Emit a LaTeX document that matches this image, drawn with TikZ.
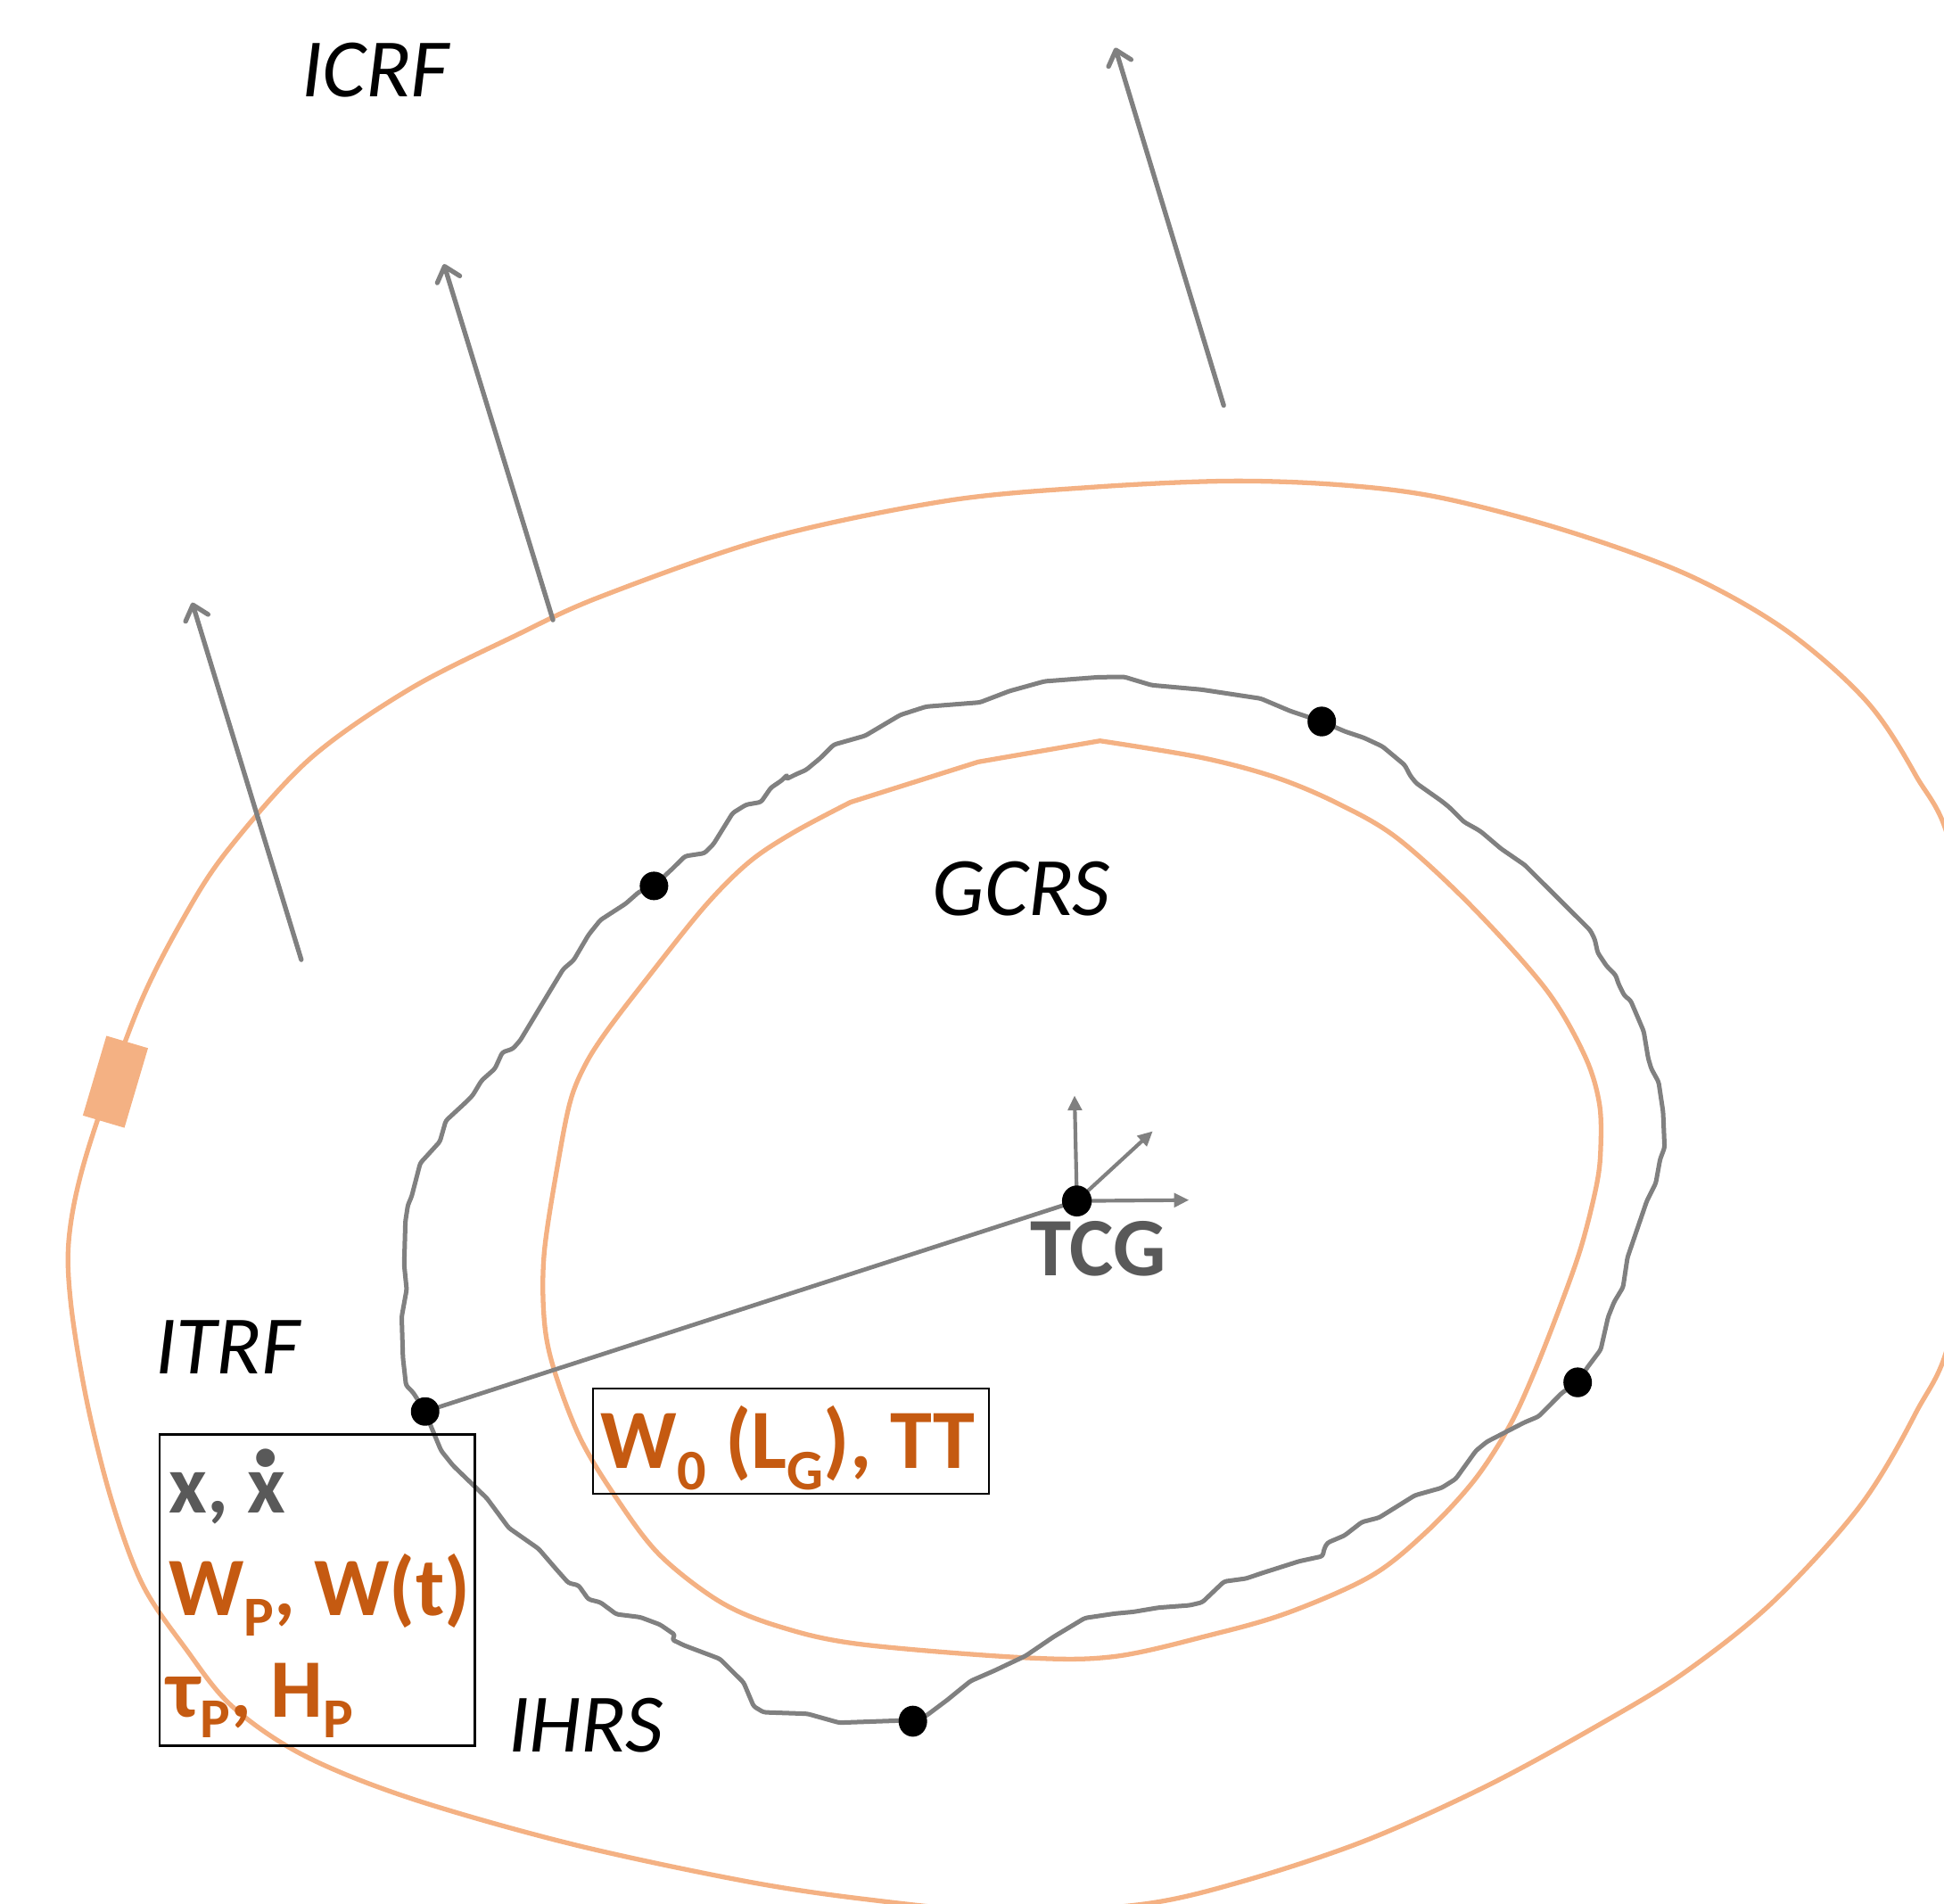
\documentclass[tikz,border=0pt]{standalone}
\usepackage{fontspec}
\setmainfont{Carlito}
\usepackage{graphicx}
\usetikzlibrary{arrows.meta,shapes.geometric}
\definecolor{curvegray}{HTML}{808080}
\definecolor{orangeline}{HTML}{F4B183}
\definecolor{orangetext}{HTML}{C55A11}
\definecolor{labelgray}{HTML}{595959}
\pgfdeclarelayer{bg}
\pgfsetlayers{bg,main}
% lowered, reduced subscript as set in the labels
\newcommand\lowsub[1]{\raisebox{-0.25em}{\scalebox{0.68}{#1}}}
% x with a dot above (time derivative)
\newcommand\xdotted{\ooalign{x\cr\hidewidth\raisebox{0.56em}{\scalebox{1.5}{.}}\hidewidth\cr}}
\tikzset{
  spot/.style 2 args={ellipse, fill=black, draw=none, inner sep=0pt,
    minimum width=#1, minimum height=#2},
  lbl/.style={font=\fontsize{67}{72}\selectfont\itshape, inner sep=0pt, anchor=base west},
  boxtxt/.style={font=\fontsize{67}{72}\selectfont\bfseries, inner sep=0pt, anchor=base west},
  framebox/.style={draw=black, line width=1.6pt, fill=none, inner sep=0pt},
  orangecurve/.style={draw=orangeline, line width=3.8pt, line join=round},
  wiggle/.style={draw=curvegray, line width=3.6pt, line join=round, rounded corners=2pt},
  bigarrow/.style={draw=curvegray, line width=3.8pt, line cap=round,
    -{Straight Barb[length=11pt,width=19pt,line cap=round,line join=round]}},
  axisarrow/.style={draw=curvegray, line width=3pt, -{Triangle[length=12pt,width=11pt]}},
  link/.style={draw=curvegray, line width=3.4pt},
}
\begin{document}
\begin{tikzpicture}[x=1pt, y=-1pt]
\useasboundingbox (0,0) rectangle (1568,1535.6);

% ---- points on the station track and the geocentre ----
\node[spot={23pt}{23pt}] (d1) at (527.5,714.5) {};
\node[spot={23pt}{24pt}] (d2) at (1066.1,581.9) {};
\node[spot={23pt}{24pt}] (d3) at (1272.5,1114.9) {};
\node[spot={23pt}{25pt}] (d4) at (736.3,1388.2) {};
\node[spot={23pt}{23pt}] (d5) at (342.9,1138.4) {};
\node[spot={24pt}{25pt}] (tcg) at (868.6,968.6) {};

% ---- free ends of arrows ----
\coordinate (a1s) at (987,327);   \coordinate (a1e) at (899.5,38.5);
\coordinate (a2s) at (446,500);   \coordinate (a2e) at (358,213);
\coordinate (a3s) at (243,774);   \coordinate (a3e) at (155,486);
\coordinate (axz) at (866.7,883.5);
\coordinate (axy) at (929.8,912.3);
\coordinate (axx) at (959,967.9);

\begin{pgfonlayer}{bg}
% outer orange boundary (runs past the frame)
\begin{scope}
\clip (0,0) rectangle (1568,1535.6);
\draw[orangecurve] plot[smooth cycle, tension=0.55] coordinates {
 (70.7,928) (111.5,813) (150,737) (185,684) (250,612) (330,556) (415,513)
 (485,481) (620,434) (763,404) (880,393) (990,388) (1080,391) (1160,401)
 (1260,427) (1360,463) (1440,508) (1505,565) (1545,625) (1575,690) (1600,880)
 (1575,1070) (1545,1140) (1500,1215) (1430,1292) (1360,1348) (1294.7,1388.2)
 (1200,1440) (1100,1485) (1000,1518) (920,1536) (810,1542) (700,1532)
 (600,1517) (460,1487) (330,1450) (244.5,1415.5) (187,1376) (150,1330)
 (115,1278) (90,1210) (70,1130) (57,1050) (56,995)};
\end{scope}

% inner orange boundary
\draw[orangecurve] plot[smooth, tension=0.55] coordinates {
 (887.2,597.5) (969,611) (1029,627) (1079,648) (1127,676) (1187,731)
 (1247,798) (1278,851) (1290,890) (1291,928) (1287.5,957) (1275.5,1005)
 (1259,1052) (1237,1108) (1217,1151) (1189,1194) (1151,1235) (1106,1271)
 (1038,1301) (975,1319) (899,1336) (827,1337) (693,1326) (629,1312)
 (581,1292) (532,1254) (497,1208) (468,1160) (447,1105) (439,1065)
 (439,1010) (450.8,933.8) (460.3,887.1) (472.3,858.3) (489.1,832)
 (520.3,791.2) (568.2,731.3) (604.2,695.3) (640.2,671.3) (686,647)}
 -- (789,614.5) -- cycle;

% station track
\draw[wiggle] (342.9,1138.4) -- (333.3,1123.2) -- (327.5,1117.3) -- (325,1095)
 -- (324,1062) -- (328,1040) -- (326,1020) -- (327,985) -- (329,972)
 -- (332,965) -- (339,938) -- (342.9,933.8) -- (354.8,920.7) -- (359.6,903.9)
 -- (375.2,889.5) -- (381.2,883.5) -- (388.4,871.5) -- (399.2,861.9)
 -- (405.2,848.7) -- (413.6,845.9) -- (419.6,839.1) -- (441.2,803.2)
 -- (454.3,781.6) -- (462.7,774.4) -- (474.7,754) -- (484.3,742)
 -- (504.7,728.8) -- (515.5,719.3) -- (527.5,714.5) -- (543,700)
 -- (552.6,690.5) -- (568.2,688.1) -- (575.4,680.9) -- (591,655.7)
 -- (601.8,649) -- (613.8,646.9) -- (621.8,635.3) -- (630.6,629.4)
 -- (635.3,624.6) -- (634,628.5) -- (642,624.5) -- (650.1,621)
 -- (661.7,611.4) -- (672.5,600.6) -- (697.8,593.4) -- (726.2,576.6)
 -- (747,569.9) -- (790.3,566.5) -- (814.1,557.4) -- (842.5,549.5)
 -- (885.7,546.2) -- (906.6,545.9) -- (928.9,552.6) -- (969.2,556.2)
 -- (1016.9,563.4) -- (1040.8,573.5) -- (1066.1,581.9) -- (1085,590)
 -- (1100,595) -- (1115,602) -- (1133,617) -- (1137.6,625.8) -- (1142.4,631.7)
 -- (1162.8,646.1) -- (1168.8,650.9) -- (1180.8,662.9) -- (1191.6,668.9)
 -- (1195.2,671.3) -- (1210.7,684.5) -- (1229.9,697.7) -- (1237.1,704.9)
 -- (1282.7,750.4) -- (1286.3,757.6) -- (1288.7,768.4) -- (1295.9,779.2)
 -- (1303.1,786.4) -- (1305.5,793.6) -- (1310.3,803.2) -- (1315.1,806.8)
 -- (1322.3,823.6) -- (1325.8,831.9) -- (1329.4,853.5) -- (1331.9,861.9)
 -- (1337.8,872.7) -- (1341.4,896.7) -- (1342.6,925.5) -- (1339,935)
 -- (1335.5,954.3) -- (1328.3,968.6) -- (1312.7,1014.2) -- (1309.1,1038.2)
 -- (1301.9,1050.1) -- (1297.1,1062.1) -- (1291.1,1088.5) -- (1280.3,1102.9)
 -- (1272.5,1114.9) -- (1259.9,1123.3) -- (1241,1142.4) -- (1229.6,1147.2)
 -- (1199.3,1162.8) -- (1190.5,1170) -- (1174.1,1192.8) -- (1162.7,1200)
 -- (1141.3,1206) -- (1112.3,1224) -- (1098.4,1227.6) -- (1084.5,1238.4)
 -- (1070.6,1244.3) -- (1068.1,1249.1) -- (1066.8,1255.1) -- (1047.9,1259.2)
 -- (1017.7,1268.8) -- (1005,1273.1) -- (987.4,1275.5) -- (982.3,1280.3)
 -- (969.7,1292.3) -- (959.6,1294.7) -- (934.4,1296.6) -- (914.2,1300)
 -- (899.1,1301.4) -- (875,1305) -- (850,1320) -- (827.2,1335.5)
 -- (802.1,1347.4) -- (782.8,1355.8) -- (763.6,1371.4) -- (747.6,1383.4)
 -- (736.3,1388.2) -- (725,1387.7) -- (676.9,1389.4) -- (651.2,1382.2)
 -- (615.9,1381) -- (607.9,1376.2) -- (599.8,1357) -- (580.6,1337.9)
 -- (551.7,1327) -- (542,1322.3) -- (544.6,1318.7) -- (532.4,1310.3)
 -- (516.4,1304.3) -- (497.1,1301.9) -- (493.9,1299.5) -- (484.2,1292.3)
 -- (474.6,1289.9) -- (466.6,1278.6) -- (458.5,1276.7) -- (448.9,1265.9)
 -- (434.4,1249.1) -- (410.4,1232.3) -- (392.7,1208.4) -- (365.4,1182)
 -- (355.8,1170) -- (347.8,1150.8) -- cycle;

% station vector and geocentric axes
\draw[link] (d5.center) -- (tcg.center);
\draw[axisarrow] (tcg.center) -- (axz);
\draw[axisarrow] (tcg.center) -- (axy);
\draw[axisarrow] (tcg.center) -- (axx);

% direction arrows of the celestial frame
\draw[bigarrow] (a1s) -- (a1e);
\draw[bigarrow] (a2s) -- (a2e);
\draw[bigarrow] (a3s) -- (a3e);
\end{pgfonlayer}

% marker on the outer boundary
\node[fill=orangeline, draw=none, minimum width=67pt, minimum height=35pt,
      inner sep=0pt, rotate=73.5] (mark) at (93.1,872.5) {};

% frame labels
\node[lbl] (icrf) at (243,78) {ICRF};
\node[lbl] (gcrs) at (752,738) {GCRS};
\node[lbl] (itrf) at (125,1108) {ITRF};
\node[lbl] (ihrs) at (410,1413) {IHRS};
\node[font=\fontsize{67}{72}\selectfont\bfseries, text=labelgray, inner sep=0pt,
      anchor=base] (tcglbl) at (886,1028.6) {TCG};

% station quantities
\node[framebox, minimum width=254pt, minimum height=251pt] (box1) at (256,1282.5) {};
\node[boxtxt, text=labelgray] (q1) at (136,1220) {x, \xdotted};
\node[boxtxt, text=orangetext] (q2) at (136,1303) {W\lowsub{P}, W(t)};
\node[boxtxt, text=orangetext] (q3) at (135,1385) {τ\lowsub{P}, H\lowsub{P}};

% global quantities
\node[framebox, minimum width=319.4pt, minimum height=84.8pt] (box2) at (638,1162.4) {};
\node[boxtxt, text=orangetext, font=\fontsize{68}{72}\selectfont\bfseries]
  (q4) at (484.3,1184.4) {W\lowsub{0} (L\lowsub{G}), TT};
\end{tikzpicture}
\end{document}
